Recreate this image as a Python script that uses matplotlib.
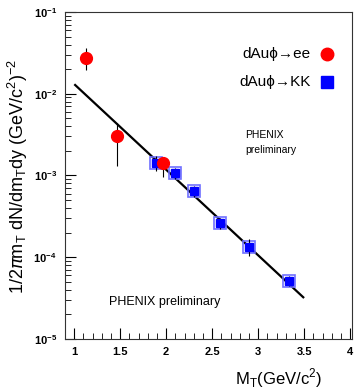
import numpy as np
import matplotlib
matplotlib.use('Agg')
from matplotlib import pyplot as plt
from matplotlib.ticker import LogLocator, MultipleLocator, NullFormatter

plt.rcParams['font.family'] = ['Liberation Sans', 'DejaVu Sans']

# dAu phi -> ee
ee_x = [1.13, 1.46, 1.96]
ee_y = [0.0276, 0.00304, 0.00141]
ee_lo = [0.0195, 0.0013, 0.00095]
ee_hi = [0.036, 0.0044, 0.00167]

# dAu phi -> KK
kk_x = [1.89, 2.10, 2.30, 2.58, 2.90, 3.33]
kk_y = [0.00141, 0.00106, 0.000638, 0.00026, 0.000135, 5.16e-5]
kk_lo = [0.00112, 0.00090, 0.00054, 0.000222, 0.000105, 4.5e-5]
kk_hi = [0.00175, 0.00124, 0.00075, 0.000300, 0.000165, 5.9e-5]

# exponential fit line (end points)
fit_x = [1.01, 3.49]
fit_y = [0.0128, 3.24e-5]

fig = plt.figure(figsize=(3.6, 3.92), dpi=100)
ax = fig.add_axes([0.1806, 0.1352, 0.7972, 0.8342])

ax.plot(fit_x, fit_y, color='black', lw=1.6, zorder=2)

# KK: systematic boxes, stat errors, markers
kk_x = np.array(kk_x)
kk_y = np.array(kk_y)
ax.plot(kk_x, kk_y, ls='none', marker='s', ms=8.5, mfc='none', mec='#6f6fff', mew=1.2, zorder=3)
ax.errorbar(kk_x, kk_y, yerr=[kk_y - np.array(kk_lo), np.array(kk_hi) - kk_y],
            fmt='none', ecolor='black', elinewidth=0.8, zorder=4)
ax.plot(kk_x, kk_y, ls='none', marker='s', ms=6, color='#0000ff', zorder=5)

# ee
ee_x = np.array(ee_x)
ee_y = np.array(ee_y)
ax.errorbar(ee_x, ee_y, yerr=[ee_y - np.array(ee_lo), np.array(ee_hi) - ee_y],
            fmt='none', ecolor='black', elinewidth=0.8, zorder=4)
ax.plot(ee_x, ee_y, ls='none', marker='o', ms=8.5, color='#ff0000', mec='#ff0000', zorder=6)

ax.set_yscale('log')
ax.set_xlim(0.9, 4.02)
ax.set_ylim(1e-5, 1e-1)

ax.xaxis.set_minor_locator(MultipleLocator(0.1))
ax.set_xticks([1, 1.5, 2, 2.5, 3, 3.5, 4])
ax.set_xticklabels(['1', '1.5', '2', '2.5', '3', '3.5', '4'])
ax.yaxis.set_major_locator(LogLocator(base=10, numticks=10))
ax.yaxis.set_minor_locator(LogLocator(base=10, subs=np.arange(2, 10), numticks=10))
ax.yaxis.set_minor_formatter(NullFormatter())

ax.tick_params(which='both', direction='in', top=False, right=False, labelsize=8, pad=6)
ax.tick_params(which='major', length=8, width=0.8)
ax.tick_params(which='minor', length=4, width=0.6)
for lab in ax.get_xticklabels() + ax.get_yticklabels():
    lab.set_fontweight('bold')
for sp in ax.spines.values():
    sp.set_linewidth(0.8)
    sp.set_color('#333333')

# legend-like annotations
ax.text(0.855, 0.872, 'dAu\u03d5\u2192ee', transform=ax.transAxes, ha='right', va='center', fontsize=11)
ax.text(0.855, 0.786, 'dAu\u03d5\u2192KK', transform=ax.transAxes, ha='right', va='center', fontsize=11)
ax.plot([0.914], [0.872], transform=ax.transAxes, marker='o', ms=9, color='#ff0000', clip_on=False)
ax.plot([0.914], [0.786], transform=ax.transAxes, marker='s', ms=8, color='#0000ff', clip_on=False)

ax.text(0.627, 0.60, 'PHENIX\npreliminary', transform=ax.transAxes, ha='left', va='center',
        fontsize=7.5, linespacing=1.6)
ax.text(0.155, 0.113, 'PHENIX preliminary', transform=ax.transAxes, ha='left', va='center', fontsize=9)

fig.text(0.05, 0.55, r'1/2$\pi$m$_\mathregular{T}$ dN/dm$_\mathregular{T}$dy (GeV/c$^\mathregular{2}$)$^\mathregular{-2}$',
         rotation=90, ha='center', va='center', fontsize=13)
fig.text(0.775, 0.035, r'M$_\mathregular{T}$(GeV/c$^\mathregular{2}$)', ha='center', va='center', fontsize=12)

fig.savefig('out.png', dpi=100)
